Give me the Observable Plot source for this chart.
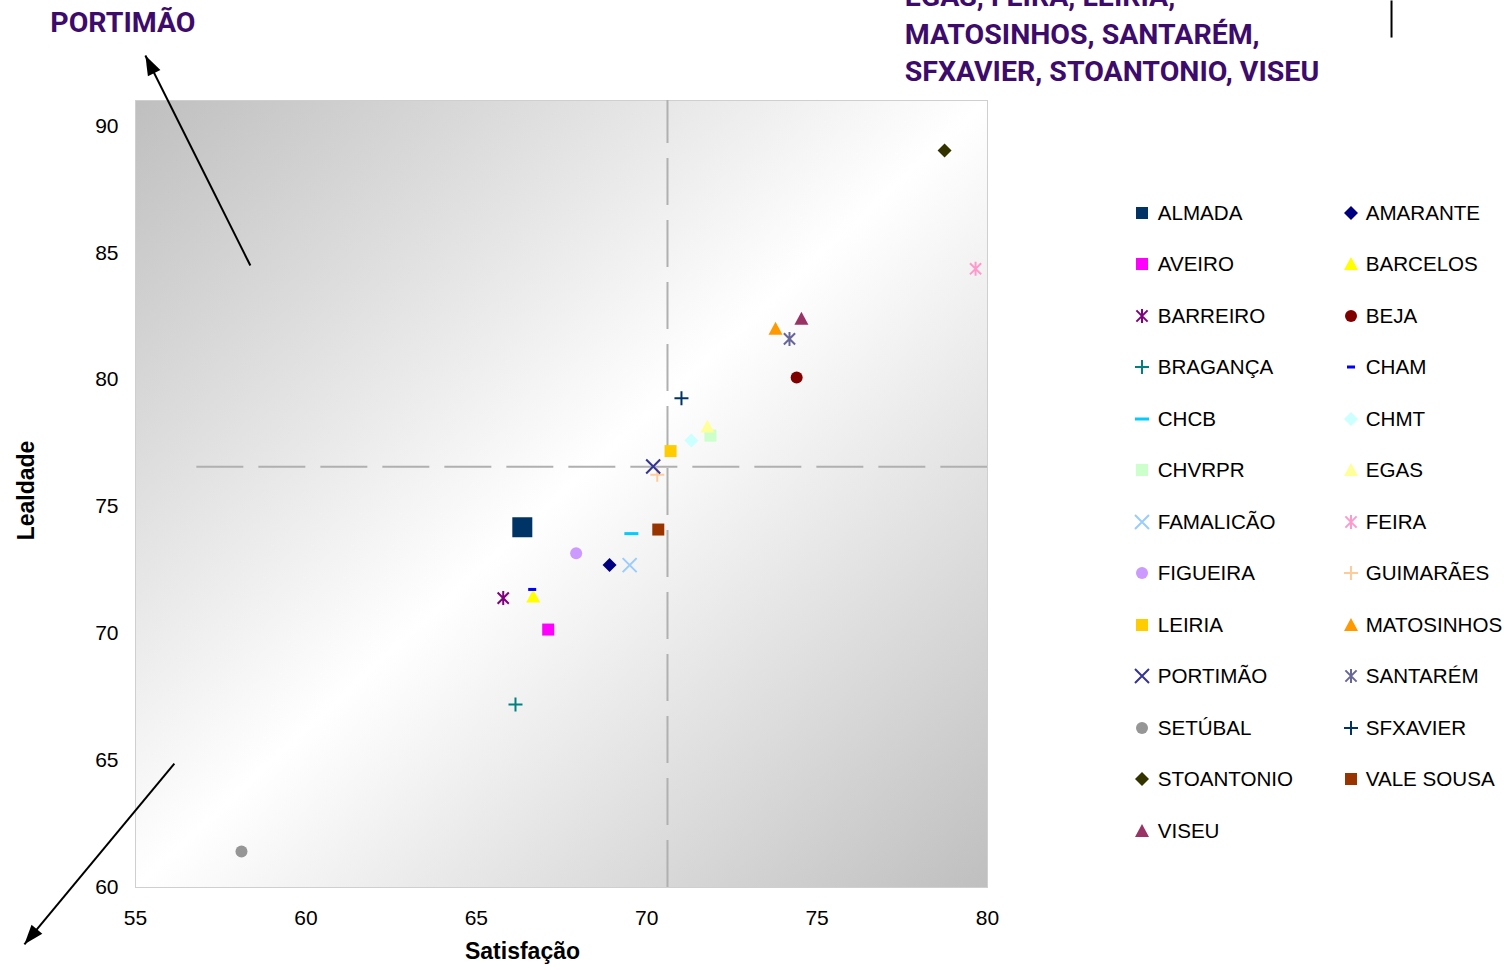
<!DOCTYPE html>
<html><head><meta charset="utf-8">
<script src="https://cdn.jsdelivr.net/npm/d3@7"></script>
<script src="https://cdn.jsdelivr.net/npm/@observablehq/plot@0.6"></script>
<style>
body{margin:0;background:#fff;}
#wrap{position:relative;width:1504px;height:970px;overflow:hidden;font-family:"Liberation Sans",Arial,sans-serif;}
#wrap > svg.plot-main{position:absolute;left:0;top:0;}
.legsym{position:absolute;width:20px;height:20px;}
.legtxt{position:absolute;height:24px;line-height:24px;font-size:20.6px;color:#000;white-space:nowrap;}
</style></head><body><div id="wrap"></div>
<script>
// ---- data ----
const hospitals = ["ALMADA","AMARANTE","AVEIRO","BARCELOS","BARREIRO","BEJA","BRAGANÇA","CHAM","CHCB","CHMT","CHVRPR","EGAS","FAMALICÃO","FEIRA","FIGUEIRA","GUIMARÃES","LEIRIA","MATOSINHOS","PORTIMÃO","SANTARÉM","SETÚBAL","SFXAVIER","STOANTONIO","VALE SOUSA","VISEU"];
const satisfacao = [66.35,68.91,67.11,66.67,65.79,74.40,66.15,66.64,69.55,71.31,71.87,71.78,69.50,79.65,67.93,70.31,70.70,73.78,70.19,74.19,58.11,71.02,78.74,70.34,74.54];
const lealdade   = [74.19,72.70,70.16,71.46,71.40,80.09,67.21,71.74,73.94,77.61,77.80,78.16,72.70,84.37,73.17,76.26,77.19,82.01,76.58,81.61,61.42,79.27,89.03,74.10,82.40];
const xTicks = [55,60,65,70,75,80];
const yTicks = [60,65,70,75,80,85,90];
const refSatisfacao = 70.61;
const refLealdade = 76.57;
const refLealdadeStart = 56.8;
const xLabel = "Satisfação";
const yLabel = "Lealdade";
// annotations (data coordinates)
const annoText = ["PORTIMÃO","EGAS, FEIRA, LEIRIA,","MATOSINHOS, SANTARÉM,","SFXAVIER, STOANTONIO, VISEU"];
const annoX = [52.50, 77.57, 77.57, 77.57];
const annoY = [94.05, 95.08, 93.60, 92.12];
const arrowX1 = [58.37, 56.14];
const arrowY1 = [84.50, 64.88];
const arrowX2 = [55.29, 51.74];
const arrowY2 = [92.77, 57.76];
const tickLineX = [91.855];
const tickLineY1 = [94.94];
const tickLineY2 = [93.48];

// ---- styles ----
const markerShape = ["square","diamond","square","triangle","asterisk","circle","plus","dash","dash","diamond","square","triangle","times","asterisk","circle","plus","square","triangle","times","asterisk","circle","plus","diamond","square","triangle"];
const markerColor = ["#003366","#000080","#FF00FF","#FFFF00","#800080","#800000","#008080","#0000FF","#00CCFF","#CCFFFF","#CCFFCC","#FFFF99","#99CCFF","#FF99CC","#CC99FF","#FFCC99","#FFCC00","#FF9900","#333399","#666699","#969696","#003366","#333300","#993300","#993366"];
const baseSize = {square:6, diamond:7, triangle:7, asterisk:7, circle:6, plus:7, times:7, dash:7};
const plotSizeOverride = {"ALMADA":10, "CHAM":4};
const legendSizeOverride = {"CHAM":4};
const strokeShapes = new Set(["asterisk","plus","times"]);

const R = s => Math.sqrt(s/Math.PI);
const symbols = {
  square:{draw(c,s){const r=R(s);c.rect(-r,-r,2*r,2*r);}},
  diamond:{draw(c,s){const r=R(s);c.moveTo(0,-r);c.lineTo(r,0);c.lineTo(0,r);c.lineTo(-r,0);c.closePath();}},
  triangle:{draw(c,s){const r=R(s);c.moveTo(0,-r);c.lineTo(r,r*0.85);c.lineTo(-r,r*0.85);c.closePath();}},
  circle:{draw(c,s){const r=R(s);c.moveTo(r,0);c.arc(0,0,r,0,2*Math.PI);c.closePath();}},
  asterisk:{draw(c,s){const r=R(s),k=r*0.8;c.moveTo(0,-r);c.lineTo(0,r);c.moveTo(-k,-k);c.lineTo(k,k);c.moveTo(-k,k);c.lineTo(k,-k);}},
  plus:{draw(c,s){const r=R(s);c.moveTo(-r,0);c.lineTo(r,0);c.moveTo(0,-r);c.lineTo(0,r);}},
  times:{draw(c,s){const r=R(s);c.moveTo(-r,-r);c.lineTo(r,r);c.moveTo(-r,r);c.lineTo(r,-r);}},
  dash:{draw(c,s){const r=R(s);c.rect(-r,-1.5,2*r,3);}}
};
const arrowHead = {draw(c,s){const r=R(s);c.moveTo(0,0);c.lineTo(-r*0.5,r*1.4);c.lineTo(r*0.5,r*1.4);c.closePath();}};

// ---- layout ----
const W = 1504, H = 970;
const margin = {left:135, right:517, top:100, bottom:83};
const xDomain = [55,80], yDomain = [60,91];
const kx = (W - margin.left - margin.right)/(xDomain[1]-xDomain[0]);
const ky = (H - margin.top - margin.bottom)/(yDomain[1]-yDomain[0]);
const arrowAngle = arrowX1.map((_,i) => {
  const dx = (arrowX2[i]-arrowX1[i])*kx, dy = -(arrowY2[i]-arrowY1[i])*ky;
  return Math.atan2(dx, -dy)*180/Math.PI;
});

const idx = d3.range(hospitals.length);
const dotMarks = idx.map(i => {
  const shape = markerShape[i];
  const r = plotSizeOverride[hospitals[i]] ?? baseSize[shape];
  const isStroke = strokeShapes.has(shape);
  return Plot.dot([i], {
    x: j => satisfacao[j], y: j => lealdade[j],
    symbol: symbols[shape], r,
    fill: isStroke ? "none" : markerColor[i],
    stroke: isStroke ? markerColor[i] : "none",
    strokeWidth: isStroke ? 2 : 0
  });
});

const plot = Plot.plot({
  width: W, height: H,
  marginLeft: margin.left, marginRight: margin.right, marginTop: margin.top, marginBottom: margin.bottom,
  style: {fontFamily: "'Liberation Sans', Arial, sans-serif", fontSize: "21px", color: "#000", background: "transparent"},
  x: {domain: xDomain, ticks: xTicks, tickSize: 0, tickPadding: 23, label: null},
  y: {domain: yDomain, ticks: yTicks, tickSize: 0, tickPadding: 17, label: null},
  marks: [
    Plot.frame({fill: "url(#bgGrad)", stroke: "#cfcfcf", strokeWidth: 1}),
    Plot.ruleX([refSatisfacao], {y1: yDomain[0], y2: yDomain[1], stroke: "#b0b0b0", strokeWidth: 2, strokeDasharray: "47,15"}),
    Plot.ruleY([refLealdade], {x1: refLealdadeStart, x2: xDomain[1], stroke: "#b0b0b0", strokeWidth: 2, strokeDasharray: "47,15"}),
    ...dotMarks,
    Plot.link(d3.range(arrowX1.length), {x1: i=>arrowX1[i], y1: i=>arrowY1[i], x2: i=>arrowX2[i], y2: i=>arrowY2[i], stroke: "#000", strokeWidth: 2}),
    Plot.dot(d3.range(arrowX1.length), {x: i=>arrowX2[i], y: i=>arrowY2[i], symbol: arrowHead, r: 14, fill: "#000", stroke: "none", rotate: i=>arrowAngle[i]}),
    Plot.link(d3.range(tickLineX.length), {x1: i=>tickLineX[i], x2: i=>tickLineX[i], y1: i=>tickLineY1[i], y2: i=>tickLineY2[i], stroke: "#000", strokeWidth: 2}),
    Plot.text(d3.range(annoText.length), {x: i=>annoX[i], y: i=>annoY[i], text: i=>annoText[i], textAnchor: "start", fontSize: 28.5, fontWeight: "bold", fontFamily: "Roboto, 'Liberation Sans', sans-serif", fill: "#3d0b6c"}),
    Plot.text([xLabel], {text: d=>d, frameAnchor: "bottom", textAnchor: "middle", lineAnchor: "middle", dx: -39, dy: 64.6, fontSize: 23, fontWeight: "bold"}),
    Plot.text([yLabel], {text: d=>d, frameAnchor: "left", textAnchor: "middle", lineAnchor: "middle", rotate: -90, dx: -109, dy: -3.5, fontSize: 23, fontWeight: "bold"})
  ]
});
plot.classList.add("plot-main");
d3.select(plot).insert("defs", ":first-child").html(
  '<linearGradient id="bgGrad" x1="0" y1="0" x2="1" y2="1">' +
  '<stop offset="0" stop-color="#bfbfbf"/><stop offset="0.5" stop-color="#ffffff"/><stop offset="1" stop-color="#bfbfbf"/>' +
  '</linearGradient>');
const wrap = document.getElementById("wrap");
wrap.appendChild(plot);

// ---- legend (HTML, two columns) ----
const legCols = [{sym:1142, txt:1157.7},{sym:1350.7, txt:1365.7}];
const legTop = 212.7, legStep = 51.5;
idx.forEach(i => {
  const col = legCols[i % 2], row = Math.floor(i / 2);
  const cy = legTop + row * legStep;
  const shape = markerShape[i];
  const r = legendSizeOverride[hospitals[i]] ?? baseSize[shape];
  const isStroke = strokeShapes.has(shape);
  const p = d3.path(); symbols[shape].draw(p, r*r*Math.PI);
  const s = d3.select(wrap).append("svg").attr("class","legsym")
    .attr("width",20).attr("height",20)
    .style("left", (col.sym-10)+"px").style("top", (cy-10)+"px");
  s.append("path").attr("transform","translate(10,10)").attr("d", p.toString())
    .attr("fill", isStroke ? "none" : markerColor[i])
    .attr("stroke", isStroke ? markerColor[i] : "none")
    .attr("stroke-width", isStroke ? 2 : 0);
  d3.select(wrap).append("div").attr("class","legtxt")
    .style("left", col.txt+"px").style("top", (cy-12)+"px").text(hospitals[i]);
});
</script>
</body></html>
